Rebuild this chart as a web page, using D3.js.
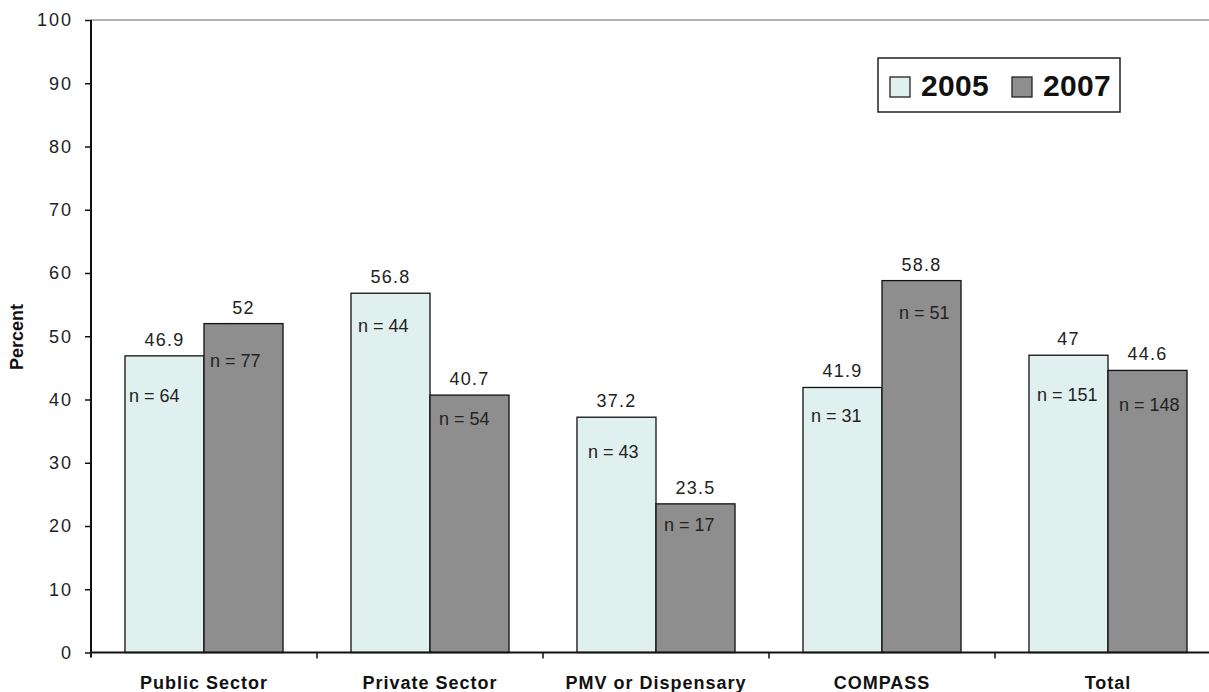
<!DOCTYPE html>
<html><head><meta charset="utf-8">
<script src="https://cdn.jsdelivr.net/npm/d3@7"></script>
<style>body{margin:0;background:#fff;} svg{display:block;font-family:Arial,"Liberation Sans",sans-serif;}</style>
</head><body>
<script>
const categories = ["Public Sector","Private Sector","PMV or Dispensary","COMPASS","Total"];
const seriesNames = ["2005","2007"];
const values2005 = [46.9, 56.8, 37.2, 41.9, 47];
const values2007 = [52, 40.7, 23.5, 58.8, 44.6];
const n2005 = [64, 44, 43, 31, 151];
const n2007 = [77, 54, 17, 51, 148];
const yTicks = [0,10,20,30,40,50,60,70,80,90,100];
// label nudges (layout only): offset of "n =" label from bar top-left
const nDy2005 = [40, 33, 35, 29, 40];
const nDy2007 = [37, 24, 21, 32, 35];
const nDx2005 = [4, 7, 11, 8, 8];
const nDx2007 = [6, 9, 8, 17, 11];

(function(){
const W = 1209, H = 692;
const colors = {"2005":"#e0f0ef","2007":"#8e8e8e"};
const svg = d3.select("body").append("svg").attr("width",W).attr("height",H);

const pLeft = 91, pTop = 20, pBottom = 652.5, rightExt = 1221;
const y = d3.scaleLinear().domain([0,100]).range([pBottom, pTop]);
const x0 = d3.scaleBand().domain(categories).range([pLeft, rightExt]).padding(0);
const x1 = d3.scaleBand().domain(seriesNames).range([0, x0.bandwidth()]).paddingInner(0).paddingOuter(0.43);

// top border of plot area
svg.append("line").attr("x1",pLeft).attr("x2",W).attr("y1",y(100)).attr("y2",y(100))
  .attr("stroke","#999").attr("stroke-width",1.5);

const data = categories.map((c,i)=>({c, vals:[
  {s:"2005", v:values2005[i], n:n2005[i], dx:nDx2005[i], dy:nDy2005[i]},
  {s:"2007", v:values2007[i], n:n2007[i], dx:nDx2007[i], dy:nDy2007[i]}]}));

const g = svg.selectAll("g.cat").data(data).enter().append("g")
  .attr("transform", d=>`translate(${x0(d.c)},0)`);
g.selectAll("rect").data(d=>d.vals).enter().append("rect")
  .attr("x", d=>x1(d.s)).attr("width", x1.bandwidth())
  .attr("y", d=>y(d.v)).attr("height", d=>y(0)-y(d.v))
  .attr("fill", d=>colors[d.s]).attr("stroke","#111").attr("stroke-width",1.3);
g.selectAll("text.val").data(d=>d.vals).enter().append("text")
  .attr("class","val")
  .attr("x", d=>x1(d.s)+x1.bandwidth()/2).attr("y", d=>y(d.v)-10)
  .attr("text-anchor","middle").attr("font-size",18).attr("letter-spacing",1.2)
  .attr("fill","#222").text(d=>d.v);
g.selectAll("text.n").data(d=>d.vals).enter().append("text")
  .attr("class","n")
  .attr("x", d=>x1(d.s)+d.dx).attr("y", d=>y(d.v)+d.dy+6)
  .attr("font-size",18).attr("fill","#222").text(d=>"n = "+d.n);

// y axis
const yAxis = d3.axisLeft(y).tickValues(yTicks).tickSize(6).tickPadding(12).tickSizeOuter(0);
const ya = svg.append("g").attr("transform",`translate(${pLeft},0)`).call(yAxis);
ya.select(".domain").attr("stroke","#111").attr("stroke-width",2).attr("d",`M0,${y(100)}V${y(0)+5}`);
ya.selectAll(".tick line").attr("stroke","#111").attr("stroke-width",1.5);
ya.selectAll(".tick text").attr("font-size",18).attr("letter-spacing",2).attr("fill","#222")
  .attr("font-family","Arial,'Liberation Sans',sans-serif");

// x axis
svg.append("line").attr("x1",pLeft).attr("x2",W).attr("y1",y(0)).attr("y2",y(0))
  .attr("stroke","#111").attr("stroke-width",2);
const bounds = categories.slice(1).map(c=>x0(c));
svg.selectAll("line.xt").data(bounds).enter().append("line")
  .attr("x1",d=>d).attr("x2",d=>d).attr("y1",y(0)).attr("y2",y(0)+6)
  .attr("stroke","#111").attr("stroke-width",1.5);
svg.selectAll("text.cat").data(categories).enter().append("text")
  .attr("x", c=>x0(c)+x0.bandwidth()/2).attr("y", 689)
  .attr("text-anchor","middle").attr("font-weight","bold").attr("font-size",18)
  .attr("letter-spacing",1).attr("fill","#111").text(c=>c);

// y title
svg.append("text").attr("transform","translate(23,337) rotate(-90)")
  .attr("text-anchor","middle").attr("font-weight","bold").attr("font-size",18)
  .attr("fill","#111").text("Percent");

// legend
const lg = svg.append("g");
lg.append("rect").attr("x",878).attr("y",58).attr("width",242).attr("height",54)
  .attr("fill","#fff").attr("stroke","#222").attr("stroke-width",1.5);
const legendX = [890, 1012];
seriesNames.forEach((s,i)=>{
  lg.append("rect").attr("x",legendX[i]).attr("y",77).attr("width",20).attr("height",20)
    .attr("fill",colors[s]).attr("stroke","#222").attr("stroke-width",1.3);
  lg.append("text").attr("x",legendX[i]+31).attr("y",96).attr("font-size",30)
    .attr("font-weight","bold").attr("letter-spacing",0.3).attr("fill","#111").text(s);
});
})();
</script>
</body></html>
